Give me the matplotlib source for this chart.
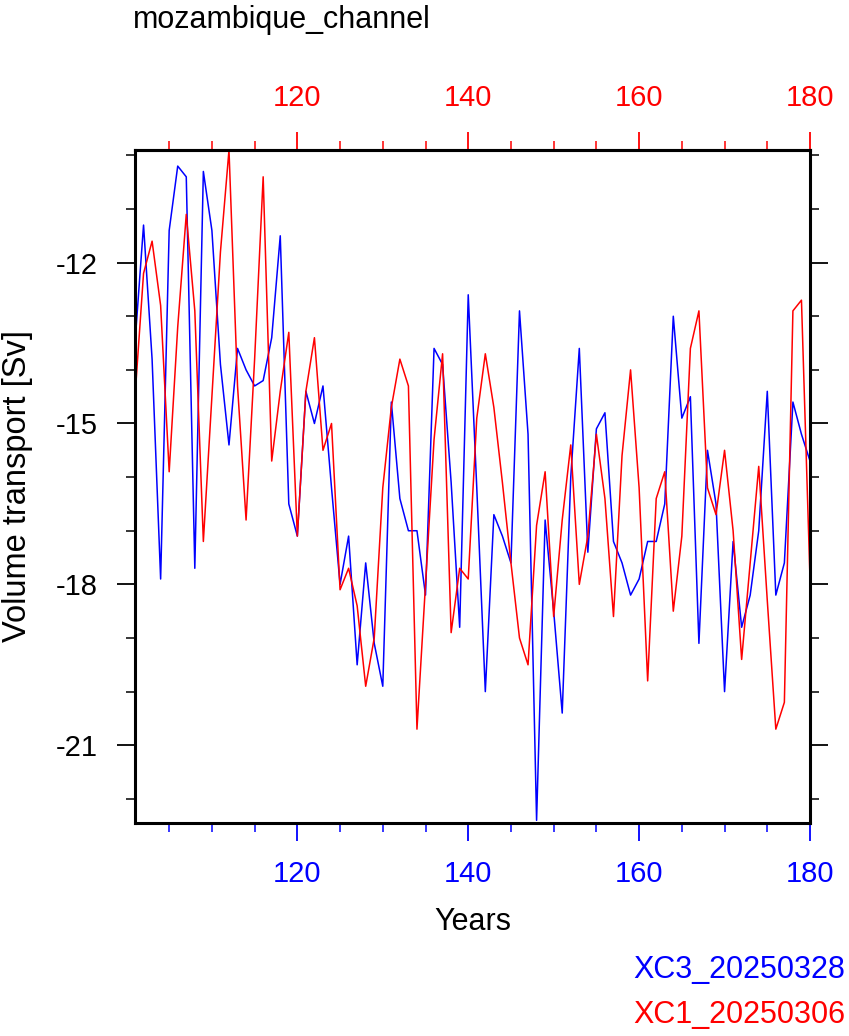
import numpy as np
import matplotlib.pyplot as plt
from matplotlib.ticker import MultipleLocator

# 数据
years = np.arange(101, 181)
xc3 = [-13.5, -11.3, -13.8, -17.9, -11.4, -10.2, -10.4, -17.7, -10.3, -11.4,
       -13.9, -15.4, -13.6, -14.0, -14.3, -14.2, -13.4, -11.5, -16.5, -17.1,
       -14.4, -15.0, -14.3, -16.2, -18.0, -17.1, -19.5, -17.6, -19.1, -19.9,
       -14.6, -16.4, -17.0, -17.0, -18.2, -13.6, -13.9, -16.1, -18.8, -12.6,
       -16.2, -20.0, -16.7, -17.1, -17.6, -12.9, -15.2, -22.4, -16.8, -18.5,
       -20.4, -16.0, -13.6, -17.4, -15.1, -14.8, -17.2, -17.6, -18.2, -17.9,
       -17.2, -17.2, -16.5, -13.0, -14.9, -14.5, -19.1, -15.5, -16.5, -20.0,
       -17.2, -18.8, -18.2, -17.0, -14.4, -18.2, -17.6, -14.6, -15.2, -15.7]
xc1 = [-14.5, -12.2, -11.6, -12.8, -15.9, -13.2, -11.1, -12.9, -17.2, -14.5,
       -11.8, -9.9, -14.3, -16.8, -13.8, -10.4, -15.7, -14.4, -13.3, -17.1,
       -14.4, -13.4, -15.5, -15.0, -18.1, -17.7, -18.4, -19.9, -19.0, -16.2,
       -14.7, -13.8, -14.3, -20.7, -18.0, -15.3, -13.7, -18.9, -17.7, -17.9,
       -14.9, -13.7, -14.7, -16.1, -17.6, -19.0, -19.5, -16.9, -15.9, -18.6,
       -16.8, -15.4, -18.0, -17.1, -15.2, -16.4, -18.6, -15.6, -14.0, -16.2,
       -19.8, -16.4, -15.9, -18.5, -17.1, -13.6, -12.9, -16.2, -16.7, -15.5,
       -17.0, -19.4, -17.6, -15.8, -18.3, -20.7, -20.2, -12.9, -12.7, -17.9]
xticks = [120, 140, 160, 180]
yticks = [-12, -15, -18, -21]

plt.rcParams['font.family'] = ['Liberation Sans', 'DejaVu Sans']

fig = plt.figure(figsize=(8.49, 10.36), dpi=100)
ax = fig.add_axes([135/849, 1-823/1036, 675/849, 673/1036])

ax.plot(years, xc3, color='blue', lw=1.1)
ax.plot(years, xc1, color='red', lw=1.1)

ax.set_xlim(101, 180)
ax.set_ylim(-22.45, -9.9)

ax.set_xticks(xticks)
ax.xaxis.set_minor_locator(MultipleLocator(5))
ax.set_yticks(yticks)
ax.set_yticklabels([str(v) for v in yticks])
ax.yaxis.set_minor_locator(MultipleLocator(1))

for s in ax.spines.values():
    s.set_linewidth(2.2)

ax.tick_params(axis='both', which='major', direction='out', length=13, width=1.3,
               labelsize=21, pad=14)
ax.tick_params(axis='both', which='minor', direction='out', length=6.5, width=1.1)
ax.tick_params(axis='y', which='both', right=True)
ax.tick_params(axis='x', which='both', colors='blue')

top = ax.secondary_xaxis('top')
top.set_xticks(xticks)
top.xaxis.set_minor_locator(MultipleLocator(5))
top.tick_params(which='major', direction='out', length=13, width=1.3,
                labelsize=21, colors='red', pad=14)
top.tick_params(which='minor', direction='out', length=6.5, width=1.1, colors='red')
top.spines['top'].set_linewidth(2.2)
top.spines['top'].set_color('black')

ax.set_xlabel('Years', fontsize=22, va='center')
ax.xaxis.set_label_coords(0.5, (823-922)/673)
ax.set_ylabel('Volume transport [Sv]', fontsize=23.5, va='center', ha='center')
ax.yaxis.set_label_coords((18-135)/675, 0.5)

fig.text(133/849, 1-20/1036, 'mozambique_channel', fontsize=22, ha='left', va='center')
fig.text(845/849, 1-970/1036, 'XC3_20250328', fontsize=22, color='blue', ha='right', va='center')
fig.text(845/849, 1-1015/1036, 'XC1_20250306', fontsize=22, color='red', ha='right', va='center')

fig.savefig('out.png', dpi=100)
